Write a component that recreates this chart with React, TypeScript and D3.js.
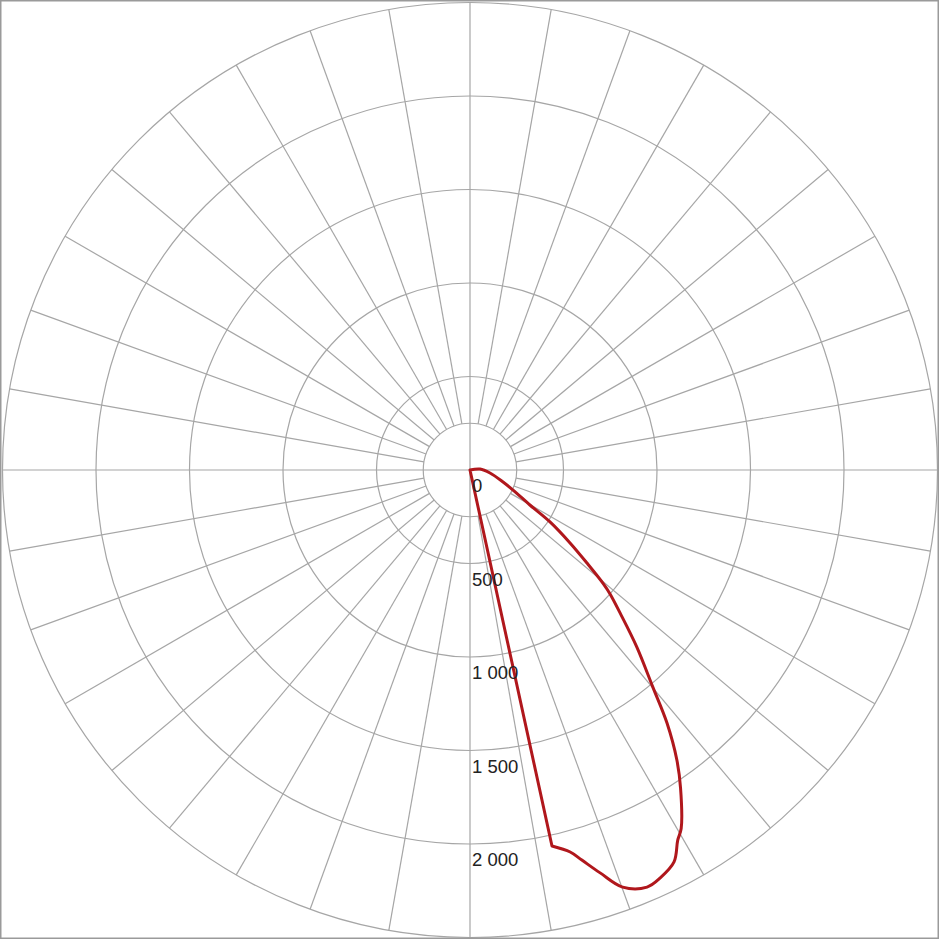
import React from "react";
import * as d3 from "d3";

// Polar intensity data (gamma angle from downward direction, toward right; candela)
const gammaAngles = [0, 12.3, 14.7, 16.0, 17.9, 20.1, 23.0, 25.0, 27.5, 29.3, 30.5, 33.5, 35.5, 37.9, 40.1, 43.3, 46.4, 48.5, 49.6, 51.5, 53.9, 57.0, 59.7, 65.0, 70.0, 81.5, 95.7, 0];
const intensities = [0, 2058, 2112, 2170, 2264, 2375, 2423, 2407, 2363, 2270, 2225, 2040, 1905, 1715, 1518, 1301, 1108, 1000, 933, 799, 662, 510, 371, 254, 188, 108, 54, 0];

const ringValues = [250, 500, 1000, 1500, 2000, 2500];
const tickLabels = ["0", "500", "1 000", "1 500", "2 000"];
const tickValues = [0, 500, 1000, 1500, 2000];
const spokeAngles = d3.range(0, 360, 10);

const W = 940;
const CX = 470;
const CY = 470;
const RMAX = 467.5;
const VMAX = 2500;

export default function App() {
  const r = d3.scaleLinear().domain([0, VMAX]).range([0, RMAX]);
  const toRad = (deg: number) => ((180 - deg) * Math.PI) / 180;

  const data = gammaAngles.map((a, i) => ({ a, v: intensities[i] }));
  const line = d3
    .lineRadial<{ a: number; v: number }>()
    .angle((d) => toRad(d.a))
    .radius((d) => r(d.v))
    .curve(d3.curveCatmullRom.alpha(0.5));
  // smooth outline through the measured points; straight edge from the centre to the first peak point
  const pathD = (line(data.slice(1)) || "") + "Z";

  const gridColor = "#a6a6a6";

  return (
    <div style={{ position: "absolute", left: 0, top: 0, width: W, height: W, background: "#fff" }}>
      <svg width={W} height={W} style={{ display: "block" }}>
        <rect x={0} y={0} width={W} height={W} fill="#fff" />
        <g transform={`translate(${CX},${CY})`}>
          {ringValues.map((v) => (
            <circle key={v} r={r(v)} fill="none" stroke={gridColor} strokeWidth={1.2} />
          ))}
          {spokeAngles.map((deg) => {
            const axis = deg % 90 === 0;
            const r0 = axis ? 0 : r(250);
            const r1 = r(VMAX);
            const t = (deg * Math.PI) / 180;
            return (
              <line
                key={deg}
                x1={r0 * Math.sin(t)}
                y1={-r0 * Math.cos(t)}
                x2={r1 * Math.sin(t)}
                y2={-r1 * Math.cos(t)}
                stroke={gridColor}
                strokeWidth={1.2}
              />
            );
          })}
          <path d={pathD} fill="none" stroke="#b0171c" strokeWidth={3} strokeLinejoin="round" />
          {tickValues.map((v, i) => (
            <text
              key={v}
              x={2}
              y={r(v) + 16}
              dy="0.35em"
              fontFamily="'Liberation Sans', Arial, sans-serif"
              fontSize={18.5}
              fill="#222"
            >
              {tickLabels[i]}
            </text>
          ))}
        </g>
        <rect x={0.75} y={0.75} width={W - 2.5} height={W - 2.5} fill="none" stroke="#9a9a9a" strokeWidth={1.5} />
      </svg>
    </div>
  );
}
